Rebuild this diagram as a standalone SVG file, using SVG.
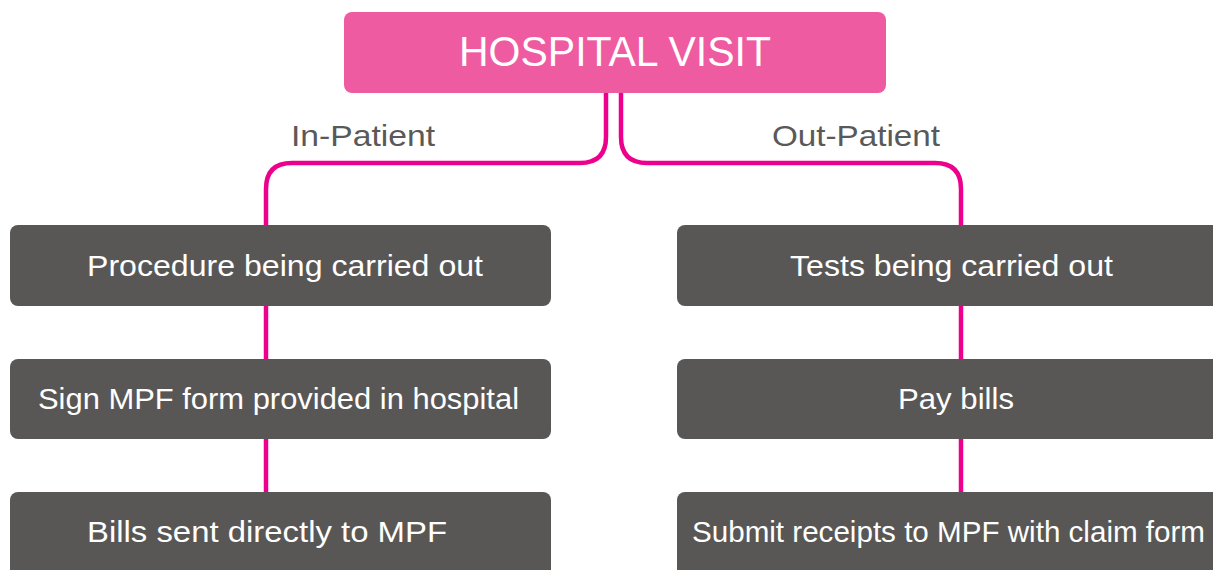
<svg xmlns="http://www.w3.org/2000/svg" width="1213" height="570" viewBox="0 0 1213 570">
<style>
.box{fill:#595755}
.bt{fill:#ffffff;font-family:"Liberation Sans","DejaVu Sans",sans-serif;font-size:30px;text-anchor:middle}
.lbl{fill:#595959;font-family:"Liberation Sans","DejaVu Sans",sans-serif;font-size:29px;text-anchor:middle}
.con{fill:none;stroke:#ec008c;stroke-width:4.5}
</style>
<rect width="1213" height="570" fill="#ffffff"/>
<g id="connectors">
<path class="con" d="M606,93 V137 Q606,163 580,163 H292 Q266,163 266,189 V226"/>
<path class="con" d="M621,93 V137 Q621,163 647,163 H935 Q961,163 961,189 V226"/>
<path class="con" d="M266,306 V360"/>
<path class="con" d="M266,439 V493"/>
<path class="con" d="M961,306 V360"/>
<path class="con" d="M961,439 V493"/>
</g>
<g id="lbl-in"><text class="lbl" x="363" y="146" textLength="144" lengthAdjust="spacingAndGlyphs">In-Patient</text></g>
<g id="lbl-out"><text class="lbl" x="856" y="146" textLength="168" lengthAdjust="spacingAndGlyphs">Out-Patient</text></g>
<g id="hospital">
<rect x="344" y="12" width="542" height="81" rx="8" fill="#ef5ba1"/>
<text x="615" y="66" fill="#ffffff" font-family="Liberation Sans, DejaVu Sans, sans-serif" font-size="42" text-anchor="middle" textLength="312" lengthAdjust="spacingAndGlyphs">HOSPITAL VISIT</text>
</g>
<g id="in1"><rect class="box" x="10" y="225" width="541" height="81" rx="8"/><text class="bt" x="285" y="276" textLength="396" lengthAdjust="spacingAndGlyphs">Procedure being carried out</text></g>
<g id="in2"><rect class="box" x="10" y="359" width="541" height="80" rx="8"/><text class="bt" x="278.5" y="409" textLength="481" lengthAdjust="spacingAndGlyphs">Sign MPF form provided in hospital</text></g>
<g id="in3"><rect class="box" x="10" y="492" width="541" height="90" rx="8"/><text class="bt" x="267" y="542" textLength="360" lengthAdjust="spacingAndGlyphs">Bills sent directly to MPF</text></g>
<g id="out1"><rect class="box" x="677" y="225" width="560" height="81" rx="8"/><text class="bt" x="951.5" y="276" textLength="323" lengthAdjust="spacingAndGlyphs">Tests being carried out</text></g>
<g id="out2"><rect class="box" x="677" y="359" width="560" height="80" rx="8"/><text class="bt" x="956" y="409" textLength="116" lengthAdjust="spacingAndGlyphs">Pay bills</text></g>
<g id="out3"><rect class="box" x="677" y="492" width="560" height="90" rx="8"/><text class="bt" x="948.5" y="542" textLength="513" lengthAdjust="spacingAndGlyphs">Submit receipts to MPF with claim form</text></g>
</svg>
